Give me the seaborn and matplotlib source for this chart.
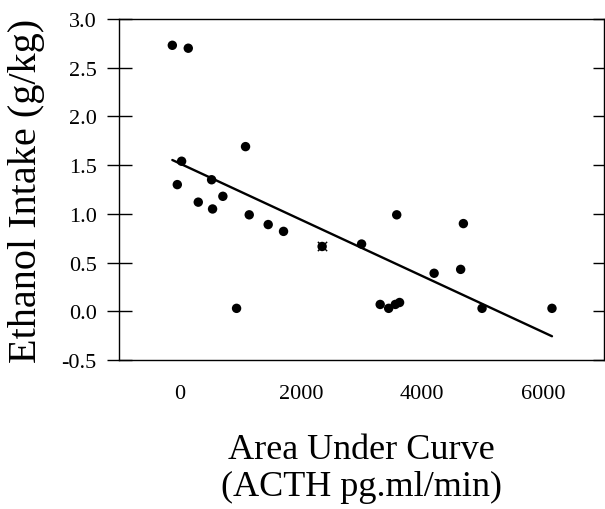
import matplotlib
matplotlib.use('Agg')
import matplotlib.pyplot as plt
import seaborn as sns
import pandas as pd

# ── Data ─────────────────────────────────────────────────────────────────────
auc_acth = [-120, 143, 1088, 33, -38, 528, 308, 714, 544, 1149, 1462,
            1715, 2352, 3003, 940, 3583, 4683, 4200, 4638, 4991, 6145,
            3310, 3450, 3560, 3630]
ethanol = [2.73, 2.70, 1.69, 1.54, 1.30, 1.35, 1.12, 1.18, 1.05, 0.99, 0.89,
           0.82, 0.665, 0.69, 0.03, 0.99, 0.90, 0.39, 0.43, 0.03, 0.03,
           0.07, 0.03, 0.07, 0.09]
x_ticks = [0, 2000, 4000, 6000]
y_ticks = [-0.5, 0.0, 0.5, 1.0, 1.5, 2.0, 2.5, 3.0]

df = pd.DataFrame({'auc': auc_acth, 'etoh': ethanol})

# ── Style ────────────────────────────────────────────────────────────────────
sns.set_style('white')
plt.rcParams['font.family'] = ['Liberation Serif', 'DejaVu Serif']

fig = plt.figure(figsize=(6.05, 5.10), dpi=100)
ax = fig.add_axes([0.1967, 0.2922, 0.8013, 0.6686])

sns.regplot(data=df, x='auc', y='etoh', ax=ax, ci=None, truncate=True,
            scatter_kws=dict(s=46, color='black', edgecolor='none', alpha=1),
            line_kws=dict(color='black', lw=1.7))

# the doubled point drawn with a cross
ax.scatter([auc_acth[12]], [ethanol[12]], marker='x', s=45,
           color='black', linewidths=1.0, zorder=4)

ax.set_xlim(-1000, 7000)
ax.set_ylim(-0.5, 3.0)
ax.set_xticks(x_ticks)
ax.set_yticks(y_ticks)
ax.set_yticklabels([f'{v:.1f}' for v in y_ticks])

for sp in ax.spines.values():
    sp.set_color('black')
    sp.set_linewidth(1.0)

ax.tick_params(axis='both', direction='inout', length=18, width=1.0,
               color='black', labelsize=16, labelcolor='black')
ax.tick_params(axis='x', pad=8)
ax.tick_params(axis='y', pad=7)

# inward ticks on the right side
twin = ax.twinx()
twin.set_ylim(ax.get_ylim())
twin.set_yticks(y_ticks)
twin.tick_params(axis='y', direction='in', length=8, width=1.0,
                 color='black', labelright=False)
for sp in twin.spines.values():
    sp.set_visible(False)

ax.set_xlabel('Area Under Curve\n(ACTH pg.ml/min)', fontsize=26,
              color='black', labelpad=22, linespacing=1.15)
ax.set_ylabel('Ethanol Intake (g/kg)', fontsize=29, color='black',
              labelpad=12)

fig.savefig('out.png', dpi=100, facecolor='white')
